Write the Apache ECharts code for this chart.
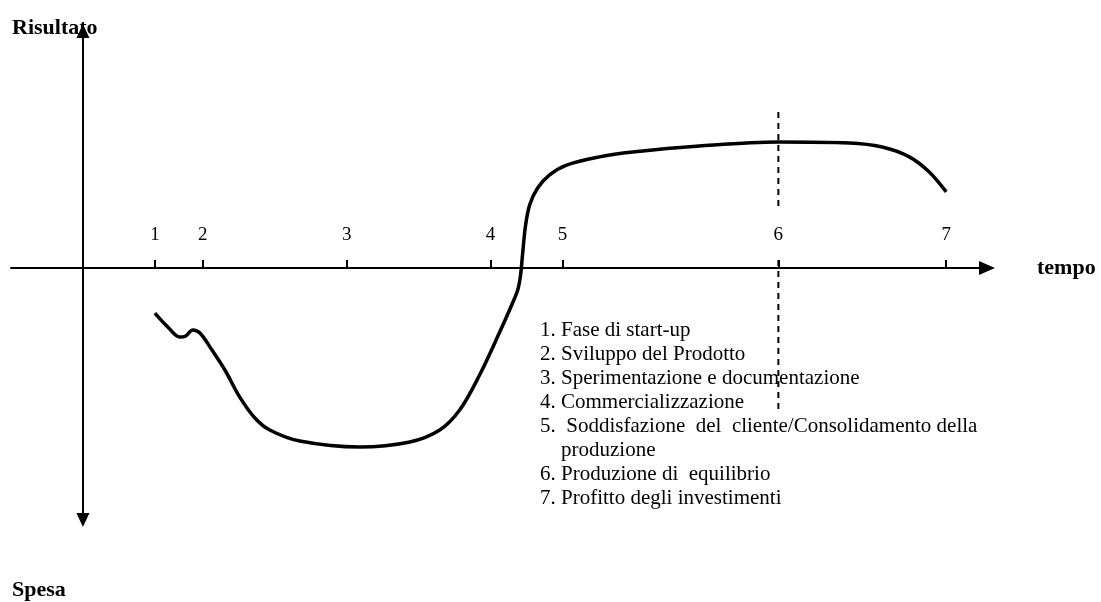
<!DOCTYPE html>
<html>
<head>
<meta charset="utf-8">
<script src="https://cdn.jsdelivr.net/npm/echarts@6/dist/echarts.min.js"></script>
<style>
  html, body { margin: 0; padding: 0; background: #fff; }
  #chart { width: 1101px; height: 602px; }
</style>
</head>
<body>
<div id="chart"></div>
<script>
  // fasi sull'asse del tempo
  var phaseTicks = [3, 5, 11, 17, 20, 29, 36];
  var phaseLabels = ['1', '2', '3', '4', '5', '6', '7'];

  // andamento risultato/spesa
  var curveX = [3, 3.54, 4.04, 4.29, 4.58, 4.88, 5.38, 5.92, 6.54, 7.17, 7.79, 9.04, 11.54,
    13.63, 14.88, 15.71, 16.54, 17.38, 17.88, 18.13, 18.25, 18.33, 18.46, 18.63, 18.96,
    19.46, 20.17, 21.54, 22.92, 25.7, 29, 31.96, 33.33, 34.46, 35.29, 36];
  var curveY = [-1.88, -2.46, -2.88, -2.83, -2.58, -2.71, -3.42, -4.25, -5.38, -6.25, -6.75, -7.21, -7.46,
    -7.25, -6.75, -5.92, -4.46, -2.67, -1.54, -0.92, -0.29, 0.54, 1.79, 2.63, 3.33,
    3.88, 4.29, 4.63, 4.83, 5.08, 5.25, 5.21, 5.04, 4.63, 4.0, 3.17];

  // linea tratteggiata sulla fase 6 (interrotta dall'etichetta)
  var equilibrioX = 29;
  var dashUpper = [6.5, 2.42];
  var dashLower = [0.33, -6.04];

  var legendLines = [
    '1. Fase di start-up',
    '2. Sviluppo del Prodotto',
    '3. Sperimentazione e documentazione',
    '4. Commercializzazione',
    '5.  Soddisfazione  del  cliente/Consolidamento della',
    '    produzione',
    '6. Produzione di  equilibrio',
    '7. Profitto degli investimenti'
  ];

  var serif = "'Liberation Serif', 'DejaVu Serif', serif";

  var curveData = curveX.map(function (x, i) { return [x, curveY[i]]; });

  var myChart = echarts.init(document.getElementById('chart'));
  var option = {
    animation: false,
    backgroundColor: '#fff',
    grid: { left: 11, right: 114, top: 31, bottom: 82, outerBoundsMode: 'none' },
    xAxis: {
      type: 'value',
      min: -3,
      max: 37.7,
      name: 'tempo',
      nameLocation: 'end',
      nameGap: 50,
      nameTextStyle: { fontFamily: serif, fontWeight: 'bold', fontSize: 22, color: '#000' },
      axisLine: {
        onZero: true,
        symbol: ['none', 'triangle'],
        symbolSize: [14, 16],
        lineStyle: { color: '#000', width: 2 }
      },
      axisTick: {
        show: true,
        inside: true,
        length: 8,
        customValues: phaseTicks,
        lineStyle: { color: '#000', width: 2 }
      },
      axisLabel: {
        inside: true,
        margin: 275,
        customValues: phaseTicks,
        formatter: function (v) { return phaseLabels[phaseTicks.indexOf(v)]; },
        fontFamily: serif,
        fontSize: 19,
        color: '#000'
      },
      splitLine: { show: false }
    },
    yAxis: {
      type: 'value',
      min: -10.5,
      max: 9.875,
      axisLine: {
        onZero: true,
        symbol: ['triangle', 'triangle'],
        symbolSize: [13, 14],
        lineStyle: { color: '#000', width: 2 }
      },
      axisTick: { show: false },
      axisLabel: { show: false },
      splitLine: { show: false }
    },
    graphic: [
      { type: 'text', left: 12, top: 17, z: -1,
        style: { text: 'Risultato', font: 'bold 22px ' + serif, fill: '#000' } },
      { type: 'text', left: 12, top: 579,
        style: { text: 'Spesa', font: 'bold 22px ' + serif, fill: '#000' } },
      { type: 'text', left: 540, top: 318,
        style: { text: legendLines.join('\n'), font: '21px ' + serif, lineHeight: 24, fill: '#000' } }
    ],
    series: [
      {
        type: 'line',
        data: curveData,
        showSymbol: false,
        smooth: 0.35,
        lineStyle: { color: '#000', width: 3.5 }
      },
      {
        type: 'line',
        data: [[equilibrioX, dashUpper[0]], [equilibrioX, dashUpper[1]]],
        showSymbol: false,
        lineStyle: { color: '#000', width: 2, type: [6, 5] }
      },
      {
        type: 'line',
        data: [[equilibrioX, dashLower[0]], [equilibrioX, dashLower[1]]],
        showSymbol: false,
        lineStyle: { color: '#000', width: 2, type: [6, 5] }
      }
    ]
  };
  myChart.setOption(option);
</script>
</body>
</html>
